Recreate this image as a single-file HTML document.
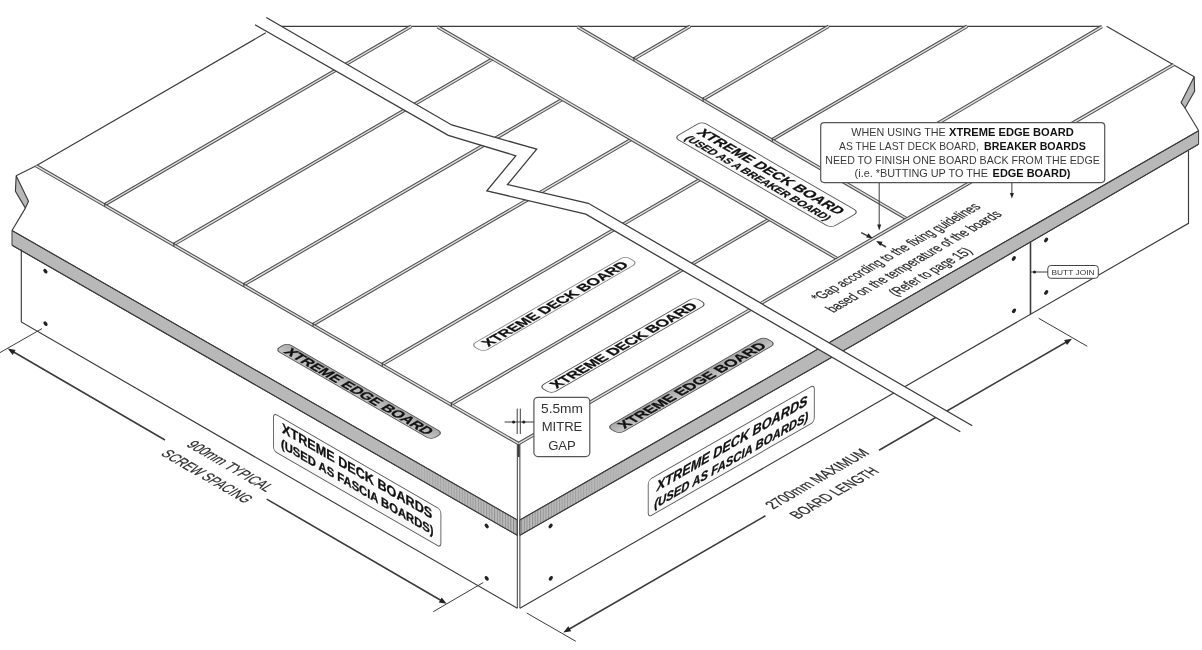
<!DOCTYPE html>
<html lang="en"><head><meta charset="utf-8"><title>Deck board layout</title>
<style>html,body{margin:0;padding:0;background:#fff}body{width:1202px;height:650px;overflow:hidden}</style></head>
<body>
<svg width="1202" height="650" viewBox="0 0 1202 650" style="display:block;filter:grayscale(1)">
<defs>
<linearGradient id="gw" x1="0" y1="0" x2="0" y2="1"><stop offset="0" stop-color="#ffffff"/><stop offset="1" stop-color="#f7f7f7"/></linearGradient>
<linearGradient id="gg" x1="0" y1="0" x2="0" y2="1"><stop offset="0" stop-color="#a8a8a8"/><stop offset="1" stop-color="#c6c6c6"/></linearGradient>
<pattern id="hatch" width="2.7" height="10" patternUnits="userSpaceOnUse"><rect width="2.7" height="10" fill="#bdbdbd"/><line x1="0.6" y1="0" x2="0.6" y2="10" stroke="#7d7d7d" stroke-width="0.9"/></pattern>
<linearGradient id="fadeL" x1="0" y1="0" x2="1" y2="0"><stop offset="0" stop-color="#fff" stop-opacity="0"/><stop offset="1" stop-color="#fff" stop-opacity="1"/></linearGradient>
<linearGradient id="fadeR" x1="0" y1="0" x2="1" y2="0"><stop offset="0" stop-color="#fff" stop-opacity="1"/><stop offset="1" stop-color="#fff" stop-opacity="0"/></linearGradient>
<mask id="mL"><rect x="385" y="400" width="135" height="150" fill="url(#fadeL)"/></mask>
<mask id="mR"><rect x="518" y="400" width="130" height="150" fill="url(#fadeR)"/></mask>
</defs>
<rect width="1202" height="650" fill="#fff"/>
<polygon points="12.0,230.5 517.3,520.0 517.3,535.3 12.0,245.2" fill="#b8b8b8" stroke="#3c3c3c" stroke-width="1" stroke-linejoin="round" />
<polygon points="519.9,520.0 1198.6,130.8 1198.6,144.2 860.0,341.2 519.9,535.3" fill="#b8b8b8" stroke="#3c3c3c" stroke-width="1" stroke-linejoin="round" />
<polygon points="12.0,230.5 517.3,520.0 517.3,535.3 12.0,245.2" fill="url(#hatch)" stroke="none" stroke-width="1.15" stroke-linejoin="round" mask="url(#mL)"/>
<polygon points="519.9,520.0 1198.6,130.8 1198.6,144.2 860.0,341.2 519.9,535.3" fill="url(#hatch)" stroke="none" stroke-width="1.15" stroke-linejoin="round" mask="url(#mR)"/>
<line x1="12.0" y1="230.5" x2="517.3" y2="520.0" stroke="#3c3c3c" stroke-width="1.15" />
<line x1="12.0" y1="245.2" x2="517.3" y2="535.3" stroke="#3c3c3c" stroke-width="1.15" />
<line x1="519.9" y1="520.0" x2="1198.6" y2="130.8" stroke="#3c3c3c" stroke-width="1.15" />
<polyline points="519.9,535.3 860.0,341.2 1198.6,144.2" fill="none" stroke="#3c3c3c" stroke-width="1.15" stroke-linejoin="miter" />
<polygon points="16.2,175.8 28.5,201.2 25.4,208.1 15.4,191.2" fill="#b8b8b8" stroke="#3c3c3c" stroke-width="1.15" stroke-linejoin="round" />
<polyline points="36.2,165.8 16.2,175.8" fill="none" stroke="#3c3c3c" stroke-width="1.15" stroke-linejoin="miter" />
<polyline points="25.4,208.1 12.0,230.5" fill="none" stroke="#3c3c3c" stroke-width="1.15" stroke-linejoin="miter" />
<polygon points="1194.2,76.8 1194.6,91.3 1185.0,108.0 1181.1,102.6" fill="#b8b8b8" stroke="#3c3c3c" stroke-width="1.15" stroke-linejoin="round" />
<polyline points="1185.0,108.0 1198.7,130.8" fill="none" stroke="#3c3c3c" stroke-width="1.15" stroke-linejoin="miter" />
<line x1="36.2" y1="165.8" x2="265.8" y2="32.8" stroke="#3c3c3c" stroke-width="1.15" />
<line x1="281.0" y1="26.3" x2="1101.3" y2="26.3" stroke="#3c3c3c" stroke-width="1.15" />
<line x1="1106.6" y1="26.3" x2="1194.2" y2="76.8" stroke="#3c3c3c" stroke-width="1.15" />
<polyline points="21.3,249.5 21.3,322.0 517.3,608.3" fill="none" stroke="#3c3c3c" stroke-width="1.15" stroke-linejoin="miter" />
<polyline points="519.9,608.3 1188.5,223.3 1188.5,150.5" fill="none" stroke="#3c3c3c" stroke-width="1.15" stroke-linejoin="miter" />
<line x1="1030.5" y1="241.7" x2="1030.5" y2="314.2" stroke="#3c3c3c" stroke-width="1.6" />
<line x1="517.3" y1="444.0" x2="517.3" y2="608.3" stroke="#3c3c3c" stroke-width="1" />
<line x1="519.9" y1="444.0" x2="519.9" y2="608.3" stroke="#3c3c3c" stroke-width="1" />
<line x1="518.6" y1="444.0" x2="518.6" y2="457.0" stroke="#3c3c3c" stroke-width="2.2" />
<line x1="104.2" y1="205.0" x2="411.2" y2="26.3" stroke="#4f4f4f" stroke-width="3.5" />
<line x1="104.2" y1="205.0" x2="411.2" y2="26.3" stroke="#e0e0e0" stroke-width="1.4" />
<line x1="173.3" y1="244.8" x2="492.7" y2="58.8" stroke="#4f4f4f" stroke-width="3.5" />
<line x1="173.3" y1="244.8" x2="492.7" y2="58.8" stroke="#e0e0e0" stroke-width="1.4" />
<line x1="243.3" y1="285.1" x2="562.5" y2="99.3" stroke="#4f4f4f" stroke-width="3.5" />
<line x1="243.3" y1="285.1" x2="562.5" y2="99.3" stroke="#e0e0e0" stroke-width="1.4" />
<line x1="312.5" y1="324.9" x2="631.5" y2="139.3" stroke="#4f4f4f" stroke-width="3.5" />
<line x1="312.5" y1="324.9" x2="631.5" y2="139.3" stroke="#e0e0e0" stroke-width="1.4" />
<line x1="381.7" y1="364.8" x2="700.4" y2="179.3" stroke="#4f4f4f" stroke-width="3.5" />
<line x1="381.7" y1="364.8" x2="700.4" y2="179.3" stroke="#e0e0e0" stroke-width="1.4" />
<line x1="450.8" y1="404.6" x2="769.3" y2="219.2" stroke="#4f4f4f" stroke-width="3.5" />
<line x1="450.8" y1="404.6" x2="769.3" y2="219.2" stroke="#e0e0e0" stroke-width="1.4" />
<line x1="633.3" y1="59.3" x2="690.1" y2="26.3" stroke="#4f4f4f" stroke-width="3.5" />
<line x1="633.3" y1="59.3" x2="690.1" y2="26.3" stroke="#e0e0e0" stroke-width="1.4" />
<line x1="702.5" y1="99.7" x2="828.6" y2="26.3" stroke="#4f4f4f" stroke-width="3.5" />
<line x1="702.5" y1="99.7" x2="828.6" y2="26.3" stroke="#e0e0e0" stroke-width="1.4" />
<line x1="771.7" y1="140.0" x2="967.1" y2="26.3" stroke="#4f4f4f" stroke-width="3.5" />
<line x1="771.7" y1="140.0" x2="967.1" y2="26.3" stroke="#e0e0e0" stroke-width="1.4" />
<line x1="840.9" y1="180.4" x2="1102.0" y2="26.6" stroke="#4f4f4f" stroke-width="3.5" />
<line x1="840.9" y1="180.4" x2="1102.0" y2="26.6" stroke="#e0e0e0" stroke-width="1.4" />
<line x1="36.2" y1="165.8" x2="518.6" y2="443.6" stroke="#4f4f4f" stroke-width="3.5" />
<line x1="36.2" y1="165.8" x2="518.6" y2="443.6" stroke="#e0e0e0" stroke-width="1.4" />
<line x1="437.5" y1="26.8" x2="838.3" y2="259.2" stroke="#4f4f4f" stroke-width="3.5" />
<line x1="437.5" y1="26.8" x2="838.3" y2="259.2" stroke="#e0e0e0" stroke-width="1.4" />
<line x1="577.5" y1="26.8" x2="907.5" y2="219.2" stroke="#4f4f4f" stroke-width="3.5" />
<line x1="577.5" y1="26.8" x2="907.5" y2="219.2" stroke="#e0e0e0" stroke-width="1.4" />
<line x1="518.6" y1="443.6" x2="1173.8" y2="64.6" stroke="#4f4f4f" stroke-width="3.5" />
<line x1="518.6" y1="443.6" x2="1173.8" y2="64.6" stroke="#e0e0e0" stroke-width="1.4" />
<line x1="104.8" y1="202.9" x2="104.8" y2="206.7" stroke="#3a3a3a" stroke-width="1.1" />
<line x1="173.9" y1="242.7" x2="173.9" y2="246.5" stroke="#3a3a3a" stroke-width="1.1" />
<line x1="243.9" y1="283.0" x2="243.9" y2="286.8" stroke="#3a3a3a" stroke-width="1.1" />
<line x1="313.1" y1="322.8" x2="313.1" y2="326.6" stroke="#3a3a3a" stroke-width="1.1" />
<line x1="382.3" y1="362.7" x2="382.3" y2="366.5" stroke="#3a3a3a" stroke-width="1.1" />
<line x1="451.4" y1="402.5" x2="451.4" y2="406.3" stroke="#3a3a3a" stroke-width="1.1" />
<line x1="633.9" y1="57.2" x2="633.9" y2="61.0" stroke="#3a3a3a" stroke-width="1.1" />
<line x1="703.1" y1="97.6" x2="703.1" y2="101.4" stroke="#3a3a3a" stroke-width="1.1" />
<line x1="772.3" y1="137.9" x2="772.3" y2="141.7" stroke="#3a3a3a" stroke-width="1.1" />
<line x1="841.5" y1="178.3" x2="841.5" y2="182.1" stroke="#3a3a3a" stroke-width="1.1" />
<ellipse cx="45.4" cy="271.2" rx="1.7" ry="2.6" fill="#222" transform="rotate(-40 45.4 271.2)"/>
<ellipse cx="45.5" cy="323.7" rx="1.7" ry="2.6" fill="#222" transform="rotate(-40 45.5 323.7)"/>
<ellipse cx="486.7" cy="526" rx="1.7" ry="2.6" fill="#222" transform="rotate(-40 486.7 526)"/>
<ellipse cx="486.7" cy="578.3" rx="1.7" ry="2.6" fill="#222" transform="rotate(-40 486.7 578.3)"/>
<ellipse cx="550.6" cy="526" rx="1.7" ry="2.6" fill="#222" transform="rotate(40 550.6 526)"/>
<ellipse cx="550.8" cy="578.3" rx="1.7" ry="2.6" fill="#222" transform="rotate(40 550.8 578.3)"/>
<ellipse cx="1013.8" cy="258.5" rx="1.7" ry="2.6" fill="#222" transform="rotate(40 1013.8 258.5)"/>
<ellipse cx="1014" cy="310.8" rx="1.7" ry="2.6" fill="#222" transform="rotate(40 1014 310.8)"/>
<ellipse cx="1046.1" cy="240" rx="1.7" ry="2.6" fill="#222" transform="rotate(40 1046.1 240)"/>
<ellipse cx="1046.2" cy="292.5" rx="1.7" ry="2.6" fill="#222" transform="rotate(40 1046.2 292.5)"/>
<line x1="42.0" y1="328.6" x2="0.0" y2="352.6" stroke="#3c3c3c" stroke-width="1" />
<line x1="483.3" y1="582.5" x2="433.3" y2="611.7" stroke="#3c3c3c" stroke-width="1" />
<line x1="10.7" y1="350.3" x2="165.0" y2="440.0" stroke="#3c3c3c" stroke-width="1.6" />
<line x1="266.7" y1="499.1" x2="443.7" y2="602.0" stroke="#3c3c3c" stroke-width="1.6" />
<polygon points="7.7,348.6 15.6,349.9 12.7,354.9" fill="#222" stroke="none" stroke-width="1.15" stroke-linejoin="round" />
<polygon points="446.7,603.7 438.8,602.4 441.7,597.4" fill="#222" stroke="none" stroke-width="1.15" stroke-linejoin="round" />
<line x1="526.7" y1="613.0" x2="575.8" y2="641.3" stroke="#3c3c3c" stroke-width="1" />
<line x1="1038.7" y1="318.3" x2="1087.3" y2="346.3" stroke="#3c3c3c" stroke-width="1" />
<line x1="566.3" y1="630.8" x2="765.4" y2="515.8" stroke="#3c3c3c" stroke-width="1.6" />
<line x1="879.0" y1="450.2" x2="1069.0" y2="340.5" stroke="#3c3c3c" stroke-width="1.6" />
<polygon points="563.3,632.5 568.3,626.2 571.2,631.3" fill="#222" stroke="none" stroke-width="1.15" stroke-linejoin="round" />
<polygon points="1072.0,338.8 1067.0,345.1 1064.1,340.0" fill="#222" stroke="none" stroke-width="1.15" stroke-linejoin="round" />
<polygon points="266.3,17.5 451.7,125.0 536.7,149.2 507.5,184.5 588.3,203.3 972.3,425.8 960.3,431.7 585.8,214.2 486.8,190.8 515.8,155.8 448.3,135.3 255.0,24.7" fill="#fff" stroke="none" stroke-width="1.15" stroke-linejoin="round" />
<polyline points="266.3,17.5 451.7,125.0 536.7,149.2 507.5,184.5 588.3,203.3 972.3,425.8" fill="none" stroke="#3c3c3c" stroke-width="1.3" stroke-linejoin="miter" />
<polyline points="255.0,24.7 448.3,135.3 515.8,155.8 486.8,190.8 585.8,214.2 960.3,431.7" fill="none" stroke="#3c3c3c" stroke-width="1.3" stroke-linejoin="miter" />
<g transform="matrix(0.866,0.5,-0.866,0.5,185.6,445.6)">
<text x="0" y="0" font-size="16" font-weight="normal" font-style="normal" fill="#2a2a2a" text-anchor="start" font-family="Liberation Sans, sans-serif" textLength="93" lengthAdjust="spacingAndGlyphs"  stroke="#2a2a2a" stroke-width="0.25">900mm TYPICAL</text>
</g>
<g transform="matrix(0.866,0.5,-0.866,0.5,160,454.6)">
<text x="0" y="0" font-size="16" font-weight="normal" font-style="normal" fill="#2a2a2a" text-anchor="start" font-family="Liberation Sans, sans-serif" textLength="98" lengthAdjust="spacingAndGlyphs"  stroke="#2a2a2a" stroke-width="0.25">SCREW SPACING</text>
</g>
<g transform="matrix(0.866,-0.5,0.866,0.5,773.2,509.6)">
<text x="0" y="0" font-size="16" font-weight="normal" font-style="normal" fill="#2a2a2a" text-anchor="start" font-family="Liberation Sans, sans-serif" textLength="112" lengthAdjust="spacingAndGlyphs"  stroke="#2a2a2a" stroke-width="0.25">2700mm MAXIMUM</text>
</g>
<g transform="matrix(0.866,-0.5,0.866,0.5,797.8,519.4)">
<text x="0" y="0" font-size="16" font-weight="normal" font-style="normal" fill="#2a2a2a" text-anchor="start" font-family="Liberation Sans, sans-serif" textLength="95" lengthAdjust="spacingAndGlyphs"  stroke="#2a2a2a" stroke-width="0.25">BOARD LENGTH</text>
</g>
<g transform="matrix(0.866,-0.5,0.866,0.5,471.2,345.0)">
<rect x="0" y="0" width="178" height="14" rx="5" fill="url(#gw)" stroke="#888" stroke-width="1"/>
<text x="8" y="12" font-size="14" font-weight="bold" font-style="normal" fill="#111" text-anchor="start" font-family="Liberation Sans, sans-serif" textLength="163" lengthAdjust="spacingAndGlyphs"  stroke="#111" stroke-width="0.3">XTREME DECK BOARD</text>
</g>
<g transform="matrix(0.866,-0.5,0.866,0.5,539.4,386.8)">
<rect x="0" y="0" width="179" height="14" rx="5" fill="url(#gw)" stroke="#555" stroke-width="1"/>
<text x="8" y="12" font-size="14" font-weight="bold" font-style="normal" fill="#111" text-anchor="start" font-family="Liberation Sans, sans-serif" textLength="164" lengthAdjust="spacingAndGlyphs"  stroke="#111" stroke-width="0.3">XTREME DECK BOARD</text>
</g>
<g transform="matrix(0.866,-0.5,0.866,0.5,607.2,427.0)">
<rect x="0" y="0" width="180.5" height="14" rx="5" fill="url(#gg)" stroke="#555" stroke-width="1"/>
<text x="8" y="12" font-size="14" font-weight="bold" font-style="normal" fill="#111" text-anchor="start" font-family="Liberation Sans, sans-serif" textLength="165" lengthAdjust="spacingAndGlyphs"  stroke="#111" stroke-width="0.3">XTREME EDGE BOARD</text>
</g>
<g transform="matrix(0.866,0.5,-0.866,0.5,287,343.0)">
<rect x="0" y="0" width="180" height="13.5" rx="5" fill="url(#gg)" stroke="#555" stroke-width="1"/>
<text x="7" y="11.7" font-size="14" font-weight="bold" font-style="normal" fill="#111" text-anchor="start" font-family="Liberation Sans, sans-serif" textLength="166" lengthAdjust="spacingAndGlyphs"  stroke="#111" stroke-width="0.3">XTREME EDGE BOARD</text>
</g>
<g transform="matrix(0.866,0.5,-0.866,0.5,702,121.5)">
<rect x="0" y="0" width="181" height="32" rx="5" fill="url(#gw)" stroke="#555" stroke-width="1"/>
<text x="8" y="15" font-size="14" font-weight="bold" font-style="normal" fill="#111" text-anchor="start" font-family="Liberation Sans, sans-serif" textLength="164" lengthAdjust="spacingAndGlyphs"  stroke="#111" stroke-width="0.3">XTREME DECK BOARD</text>
<text x="7" y="28" font-size="11" font-weight="bold" font-style="normal" fill="#111" text-anchor="start" font-family="Liberation Sans, sans-serif" textLength="164" lengthAdjust="spacingAndGlyphs"  stroke="#111" stroke-width="0.25">(USED AS A BREAKER BOARD)</text>
</g>
<g transform="matrix(0.866,0.5,0,1,273.5,413.0)">
<rect x="0" y="0" width="193.3" height="37.8" rx="4" fill="url(#gw)" stroke="#555" stroke-width="1"/>
<text x="9.8" y="14.6" font-size="14" font-weight="bold" font-style="normal" fill="#111" text-anchor="start" font-family="Liberation Sans, sans-serif" textLength="173.5" lengthAdjust="spacingAndGlyphs"  stroke="#111" stroke-width="0.3">XTREME DECK BOARDS</text>
<text x="8.7" y="30.2" font-size="12.5" font-weight="bold" font-style="normal" fill="#111" text-anchor="start" font-family="Liberation Sans, sans-serif" textLength="176" lengthAdjust="spacingAndGlyphs"  stroke="#111" stroke-width="0.3">(USED AS FASCIA BOARDS)</text>
</g>
<g transform="matrix(0.866,-0.4979,0,1,648.2,480.3)">
<rect x="0" y="0" width="191.8" height="37" rx="4" fill="url(#gw)" stroke="#555" stroke-width="1"/>
<text x="10" y="16" font-size="14" font-weight="bold" font-style="italic" fill="#111" text-anchor="start" font-family="Liberation Sans, sans-serif" textLength="174" lengthAdjust="spacingAndGlyphs"  stroke="#111" stroke-width="0.3">XTREME DECK BOARDS</text>
<text x="7" y="32" font-size="12.5" font-weight="bold" font-style="italic" fill="#111" text-anchor="start" font-family="Liberation Sans, sans-serif" textLength="178" lengthAdjust="spacingAndGlyphs"  stroke="#111" stroke-width="0.3">(USED AS FASCIA BOARDS)</text>
</g>
<g transform="matrix(0.866,-0.5,0.866,0.5,818.8,301.6)">
<text x="0" y="0" font-size="15" font-weight="normal" font-style="normal" fill="#2a2a2a" text-anchor="start" font-family="Liberation Sans, sans-serif" textLength="188" lengthAdjust="spacingAndGlyphs"  stroke="#2a2a2a" stroke-width="0.25">*Gap according to the fixing guidelines</text>
</g>
<g transform="matrix(0.866,-0.5,0.866,0.5,833.2,313.0)">
<text x="0" y="0" font-size="15" font-weight="normal" font-style="normal" fill="#2a2a2a" text-anchor="start" font-family="Liberation Sans, sans-serif" textLength="196" lengthAdjust="spacingAndGlyphs"  stroke="#2a2a2a" stroke-width="0.25">based on the temperature of the boards</text>
</g>
<g transform="matrix(0.866,-0.5,0.866,0.5,896,296.5)">
<text x="0" y="0" font-size="15" font-weight="normal" font-style="normal" fill="#2a2a2a" text-anchor="start" font-family="Liberation Sans, sans-serif" textLength="89" lengthAdjust="spacingAndGlyphs"  stroke="#2a2a2a" stroke-width="0.25">(Refer to page 15)</text>
</g>
<rect x="820.7" y="122.6" width="284" height="60" rx="3.5" fill="#fff" stroke="#555" stroke-width="1.2"/>
<text x="851.3" y="135.6" font-size="10.6" font-weight="normal" fill="#3a3a3a" font-family="Liberation Sans, sans-serif" textLength="94.5" lengthAdjust="spacingAndGlyphs">WHEN USING THE</text>
<text x="949.1" y="135.6" font-size="10.6" font-weight="bold" fill="#111" font-family="Liberation Sans, sans-serif" textLength="124.7" lengthAdjust="spacingAndGlyphs">XTREME EDGE BOARD</text>
<text x="839" y="149.6" font-size="10.6" font-weight="normal" fill="#3a3a3a" font-family="Liberation Sans, sans-serif" textLength="139.8" lengthAdjust="spacingAndGlyphs">AS THE LAST DECK BOARD,</text>
<text x="984" y="149.6" font-size="10.6" font-weight="bold" fill="#111" font-family="Liberation Sans, sans-serif" textLength="101.8" lengthAdjust="spacingAndGlyphs">BREAKER BOARDS</text>
<text x="825.3" y="163.5" font-size="10.6" font-weight="normal" fill="#3a3a3a" font-family="Liberation Sans, sans-serif" textLength="274.5" lengthAdjust="spacingAndGlyphs">NEED TO FINISH ONE BOARD BACK FROM THE EDGE</text>
<text x="854.6" y="177.3" font-size="10.6" font-weight="normal" fill="#3a3a3a" font-family="Liberation Sans, sans-serif" textLength="133.4" lengthAdjust="spacingAndGlyphs">(i.e. *BUTTING UP TO THE</text>
<text x="992.6" y="177.3" font-size="10.6" font-weight="bold" fill="#111" font-family="Liberation Sans, sans-serif" textLength="77.9" lengthAdjust="spacingAndGlyphs">EDGE BOARD)</text>
<line x1="879.2" y1="183.0" x2="879.2" y2="226.0" stroke="#3c3c3c" stroke-width="1" />
<polygon points="879.2,230.5 877.2,224.5 881.2,224.5" fill="#222" stroke="none" stroke-width="1.15" stroke-linejoin="round" />
<line x1="1011.9" y1="183.0" x2="1011.9" y2="194.0" stroke="#3c3c3c" stroke-width="1" />
<polygon points="1011.9,198.5 1009.9,193.0 1013.9,193.0" fill="#222" stroke="none" stroke-width="1.15" stroke-linejoin="round" />
<line x1="861.2" y1="232.6" x2="869.0" y2="236.6" stroke="#3c3c3c" stroke-width="1.5" />
<polygon points="872.6,238.2 866.2,237.6 868.4,233.3" fill="#222" stroke="none" stroke-width="1.15" stroke-linejoin="round" />
<line x1="886.0" y1="247.0" x2="880.0" y2="243.5" stroke="#3c3c3c" stroke-width="1.5" />
<polygon points="876.2,240.9 882.6,241.7 880.3,245.9" fill="#222" stroke="none" stroke-width="1.15" stroke-linejoin="round" />
<rect x="533.9" y="397.3" width="55.9" height="59.3" rx="4" fill="#fff" stroke="#555" stroke-width="1.2"/>
<text x="562" y="412.6" font-size="13" font-weight="normal" font-style="normal" fill="#333" text-anchor="middle" font-family="Liberation Sans, sans-serif" textLength="42" lengthAdjust="spacingAndGlyphs" >5.5mm</text>
<text x="562" y="431.3" font-size="13" font-weight="normal" font-style="normal" fill="#333" text-anchor="middle" font-family="Liberation Sans, sans-serif" textLength="40.6" lengthAdjust="spacingAndGlyphs" >MITRE</text>
<text x="562" y="449.9" font-size="13" font-weight="normal" font-style="normal" fill="#333" text-anchor="middle" font-family="Liberation Sans, sans-serif" textLength="27.7" lengthAdjust="spacingAndGlyphs" >GAP</text>
<line x1="517.2" y1="408.6" x2="517.2" y2="434.0" stroke="#3c3c3c" stroke-width="1" />
<line x1="520.3" y1="408.6" x2="520.3" y2="434.0" stroke="#3c3c3c" stroke-width="1" />
<line x1="504.6" y1="422.0" x2="533.9" y2="422.0" stroke="#3c3c3c" stroke-width="1" />
<circle cx="513.6" cy="422" r="1.6" fill="#222"/><circle cx="523.8" cy="422" r="1.6" fill="#222"/>
<rect x="1047.8" y="265.5" width="50.5" height="12.8" rx="3" fill="#fff" stroke="#444" stroke-width="1"/>
<text x="1073" y="275" font-size="7.6" font-weight="normal" font-style="normal" fill="#333" text-anchor="middle" font-family="Liberation Sans, sans-serif" textLength="43" lengthAdjust="spacingAndGlyphs" >BUTT JOIN</text>
<line x1="1031.0" y1="272.0" x2="1047.8" y2="272.0" stroke="#3c3c3c" stroke-width="1" />
<circle cx="1034.5" cy="272" r="1.5" fill="#222"/>
</svg>
</body></html>
